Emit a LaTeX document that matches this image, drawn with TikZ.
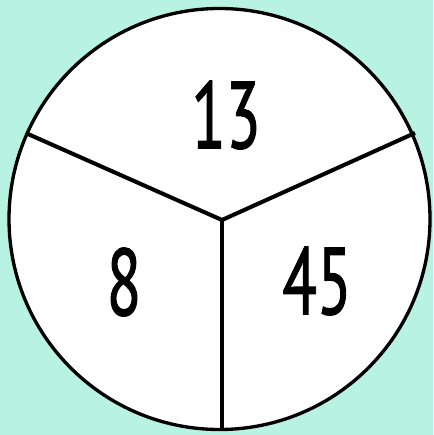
\documentclass[tikz,border=0pt]{standalone}
\usepackage{fontspec}
\setmainfont{PT Sans}
\newfontfamily\numfont[FakeBold=1.3]{PT Sans}
\usepackage{xcolor}
\usetikzlibrary{positioning}
\definecolor{mint}{RGB}{184,242,226}

\begin{document}
\begin{tikzpicture}[
  x=0.02cm, y=-0.02cm,
  rim/.style={draw=black, line width=1.9pt, fill=white},
  spoke/.style={draw=black, line width=2.3pt},
  num/.style={font=\numfont\fontsize{54}{54}\selectfont, xscale=0.67, transform shape}]
  \fill[mint] (0,0) rectangle (433,435);
  \useasboundingbox (0,0) rectangle (433,435);
  \node[circle, rim, minimum size=421*0.02cm, inner sep=0pt] (disc) at (219.5,219) {};
  \coordinate (hub) at (222,220);
  \coordinate (west) at (28,134);
  \coordinate (east) at (415,133);
  \coordinate (south) at (222,431);
  \draw[spoke] (west) -- (hub) -- (east);
  \draw[spoke] (hub) -- (south);
  \node[num] (top) at (226,115) {13};
  \node[num] (left) at (124,282) {8};
  \node[num] (right) at (317,281) {45};
\end{tikzpicture}
\end{document}
